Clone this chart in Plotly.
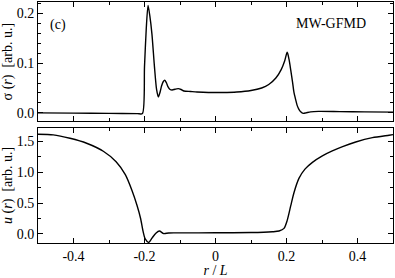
import plotly.graph_objects as go

# sigma(r) profile (upper panel)
r_sigma = [-0.50, -0.40, -0.30, -0.22, -0.206, -0.200, -0.195, -0.190, -0.185, -0.179,
           -0.172, -0.166, -0.161, -0.156, -0.152, -0.147, -0.143, -0.138, -0.134, -0.128,
           -0.122, -0.114, -0.105, -0.097, -0.089, -0.070, -0.052, -0.020, 0.020, 0.060,
           0.100, 0.130, 0.150, 0.170, 0.185, 0.195, 0.202, 0.207, 0.212, 0.217,
           0.221, 0.226, 0.230, 0.235, 0.240, 0.247, 0.255, 0.268, 0.290, 0.350,
           0.420, 0.500]
sigma = [0.000, -0.0005, -0.001, -0.0015, -0.0015, 0.093, 0.170, 0.216, 0.195, 0.158,
         0.093, 0.047, 0.032, 0.042, 0.054, 0.063, 0.0655, 0.060, 0.0526, 0.047,
         0.046, 0.0475, 0.0487, 0.047, 0.044, 0.043, 0.042, 0.041, 0.041, 0.042,
         0.045, 0.050, 0.057, 0.070, 0.087, 0.105, 0.122, 0.108, 0.086, 0.062,
         0.041, 0.026, 0.015, 0.007, 0.002, -0.001, 0.000, 0.002, 0.003, 0.0025,
         0.002, 0.0015]

# u(r) profile (lower panel)
r_u = [-0.500, -0.457, -0.410, -0.363, -0.316, -0.280, -0.254, -0.235, -0.221, -0.211,
       -0.204, -0.198, -0.188, -0.179, -0.168, -0.158, -0.146, -0.132, -0.100, 0.000,
       0.100, 0.160, 0.179, 0.193, 0.202, 0.212, 0.221, 0.235, 0.252, 0.273,
       0.301, 0.329, 0.358, 0.395, 0.442, 0.489, 0.500]
u = [1.615, 1.605, 1.55, 1.47, 1.34, 1.17, 0.96, 0.70, 0.46, 0.25,
     0.04, -0.08, -0.137, -0.068, 0.011, 0.047, 0.005, 0.016, 0.017, 0.018,
     0.022, 0.035, 0.047, 0.09, 0.22, 0.458, 0.668, 0.90, 1.05, 1.16,
     1.265, 1.345, 1.415, 1.49, 1.56, 1.60, 1.61]

x_ticks = [-0.4, -0.2, 0.0, 0.2, 0.4]
x_ticklabels = ["-0.4", "-0.2", "0", "0.2", "0.4"]

FONT = "Liberation Serif"

fig = go.Figure()
fig.add_trace(go.Scatter(x=r_sigma, y=sigma, mode="lines", xaxis="x", yaxis="y",
                         line=dict(color="black", width=1.4, shape="spline", smoothing=0.7),
                         showlegend=False, hoverinfo="skip"))
fig.add_trace(go.Scatter(x=r_u, y=u, mode="lines", xaxis="x2", yaxis="y2",
                         line=dict(color="black", width=1.4, shape="spline", smoothing=0.7),
                         showlegend=False, hoverinfo="skip"))

axis_common = dict(showline=True, linecolor="black", linewidth=1, mirror="ticks",
                   ticks="inside", ticklen=5, tickcolor="black", tickwidth=1,
                   showgrid=False, zeroline=False,
                   tickfont=dict(family=FONT, size=14, color="black"))

xcommon = dict(axis_common, range=[-0.5, 0.5], tickvals=x_ticks, ticktext=x_ticklabels,
               minor=dict(dtick=0.1, tick0=0, ticks="inside", ticklen=3, tickcolor="black"))

fig.update_layout(
    width=395, height=278,
    margin=dict(l=38, r=2, t=1, b=30),
    paper_bgcolor="white", plot_bgcolor="white",
    font=dict(family=FONT, size=14, color="black"),
    xaxis=dict(xcommon, domain=[0, 1], anchor="y", showticklabels=False),
    xaxis2=dict(xcommon, domain=[0, 1], anchor="y2",
                title=dict(text="<i>r</i> / <i>L</i>", standoff=3,
                           font=dict(family=FONT, size=14, color="black"))),
    yaxis=dict(axis_common, domain=[0.505, 1.0], anchor="x", range=[-0.017, 0.223],
               tickvals=[0.0, 0.1, 0.2], tickformat=".1f",
               minor=dict(dtick=0.02, tick0=0, ticks="inside", ticklen=3, tickcolor="black"),
               title=dict(text="σ (<i>r</i>)  [arb. u.]", standoff=0,
                          font=dict(family=FONT, size=14, color="black"))),
    yaxis2=dict(axis_common, domain=[0.0, 0.478], anchor="x2", range=[-0.147, 1.72],
                tickvals=[0.0, 0.5, 1.0, 1.5], tickformat=".1f",
                minor=dict(dtick=0.25, tick0=0, ticks="inside", ticklen=3, tickcolor="black"),
                title=dict(text="<i>u</i> (<i>r</i>)  [arb. u.]", standoff=0,
                           font=dict(family=FONT, size=14, color="black"))),
    annotations=[
        dict(text="(c)", xref="paper", yref="paper", x=0.056, y=0.903,
             xanchor="center", yanchor="middle",
             showarrow=False, font=dict(family=FONT, size=14, color="black")),
        dict(text="MW-GFMD", xref="paper", yref="paper", x=0.825, y=0.911,
             xanchor="center", yanchor="middle",
             showarrow=False, font=dict(family=FONT, size=14, color="black")),
    ],
)

fig.write_html("out.html", config={"displayModeBar": False},
               post_script="document.body.style.margin='0';document.body.style.overflow='hidden';")
